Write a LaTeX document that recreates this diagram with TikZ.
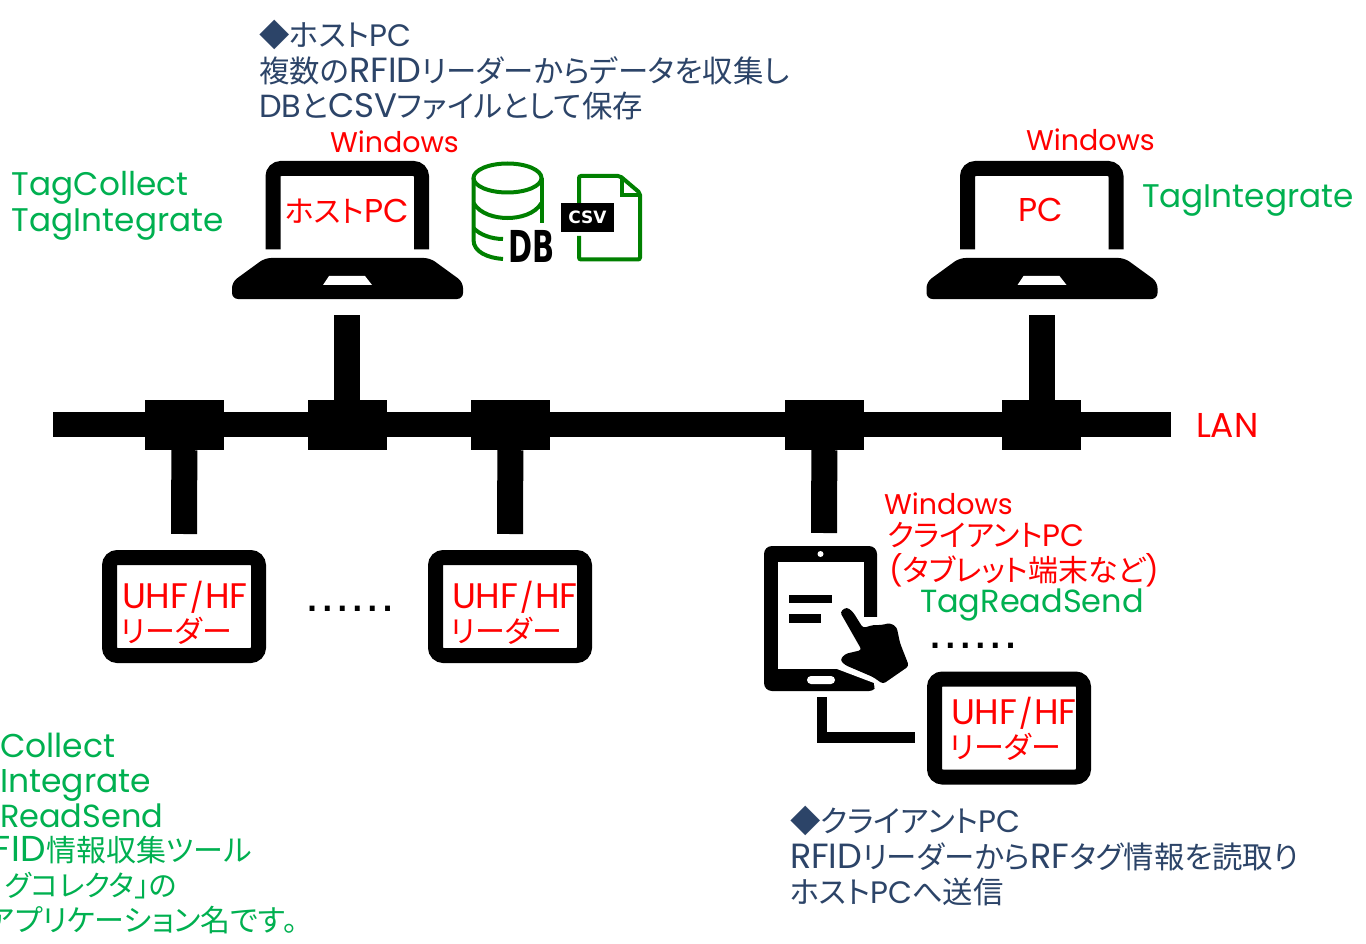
\documentclass[tikz,border=0pt]{standalone}
\usepackage{fontspec}
\setmainfont{Poppins}
\newfontfamily\jpf[RawFeature=+palt]{Noto Sans CJK JP}
\newfontfamily\iconf{DejaVu Sans Bold}
\newfontfamily\monof{DejaVu Sans Mono Bold}
\newcommand{\jp}[1]{{\jpf #1}}
\newcommand{\cp}[2]{{\fontsize{#1}{#1}\selectfont #2}}
\newcommand{\uhf}{\cp{35.5}{UHF}\kern1.5pt\cp{29}{/}\kern1.5pt\cp{35.5}{HF}}
\definecolor{navy}{HTML}{2C4468}
\definecolor{rd}{HTML}{FF0000}
\definecolor{gn}{HTML}{00B050}
\definecolor{icon}{HTML}{008000}
\tikzset{
 lab/.style={anchor=base west,inner sep=0pt,outer sep=0pt,font=\fontsize{30}{30}\selectfont},
 navytxt/.style={lab,text=navy,font=\fontsize{30.4}{30.4}\selectfont},
 redtxt/.style={lab,text=rd},
 greentxt/.style={lab,text=gn,font=\fontsize{32.7}{32.7}\selectfont},
 bus/.style={line width=25pt,black},
 drop/.style={line width=26pt,black},
 junction/.style={fill=black,minimum width=79pt,minimum height=50pt,inner sep=0pt},
 readerbox/.style={draw=black,fill=white,line width=15pt,minimum width=149pt,minimum height=98pt,rounded corners=8pt,inner sep=0pt},
 dotsrow/.style={anchor=base west,inner sep=0pt,text=black,font=\fontsize{30}{30}\selectfont\monof},
}
\begin{document}
\begin{tikzpicture}[x=1pt,y=-1pt]
\path[clip,use as bounding box] (0,0) rectangle (1366,944);
% junctions
\node[junction] (j1) at (184.5,425) {};
\node[junction] (j2) at (347.5,425) {};
\node[junction] (j3) at (510.5,425) {};
\node[junction] (j4) at (824.5,425) {};
\node[junction] (j5) at (1041.5,425) {};
\coordinate (lanL) at (53,424);
\coordinate (lanR) at (1171,424);
\draw[bus] (lanL) -- (lanR);
% readers
\node[readerbox] (r1) at (184,606.5) {};
\node[readerbox] (r2) at (510,606.5) {};
\node[readerbox] (r3) at (1009,728) {};
% laptops
\foreach \dx/\nm in {0/a,694.5/b}{
 \begin{scope}[xshift=\dx pt]
  \draw[line width=15pt,black,rounded corners=8pt] (273,249.5) -- (273,168.5) -- (421.5,168.5) -- (421.5,249.5);
  \fill[black,rounded corners=6pt] (265,258) -- (430,258) -- (463,282) -- (463,299) -- (232,299) -- (232,282) -- cycle;
  \fill[white] (323,285) -- (329,276) -- (365,276) -- (372,285) -- cycle;
 \end{scope}
}
\coordinate (lap1) at (347,315);
\coordinate (lap2) at (1041.5,315);
\coordinate (r1top) at (184,534);
\coordinate (r2top) at (510,534);
\coordinate (tabtop) at (824,533);
\draw[drop] (lap1) -- (lap1 |- j2);
\draw[drop] (lap2) -- (j5);
\draw[drop] (j1) -- (r1top);
\draw[drop] (j3) -- (r2top);
\draw[drop] (j4) -- (tabtop);
% tablet
\node[fill=black,minimum width=113pt,minimum height=145pt,rounded corners=8pt,inner sep=0pt] (tab) at (820.5,618.5) {};
\fill[white] (778,562) rectangle (864,669);
\fill[white] (820.5,554) circle (3pt);
\fill[white,rounded corners=4pt] (807,676) rectangle (835,684);
\fill[black] (789,595) rectangle (831.5,603);
\fill[black] (789,614) rectangle (821,622.5);
\fill[white] (864,617) -- (880,617) -- (880,693) -- (875,693) -- (874,683) -- (837,669) -- (864,669) -- cycle;
\fill[black,rounded corners=3pt] (840,612) -- (846.7,607) -- (853,612) -- (863,628) -- (873,625) -- (881.7,625) -- (890,623) -- (896.7,627) -- (900,643) -- (909,666) -- (883,684) -- (873,677) -- (845,665) -- (840,660) -- (845,654) -- (861.7,650) -- cycle;
\coordinate (tabport) at (822,697);
\coordinate (r3port) at (915,737.5);
\draw[line width=10.5pt,black] (tabport) |- (r3port);
% DB icon
\begin{scope}[icon,line width=4pt]
 \draw (507.5,178) ellipse (34pt and 14.5pt);
 \draw (473.5,178) -- (473.5,240) .. controls (473.5,252) and (488,258) .. (503,259);
 \draw (541.5,178) -- (541.5,223);
 \draw (473.5,203) .. controls (480,214) and (495,218) .. (507.5,218) .. controls (520,218) and (535,214) .. (541.5,203);
 \draw (473.5,228) .. controls (480,235) and (492,239) .. (503,239);
 % file
 \draw[rounded corners=2pt] (579,203) -- (579,176) -- (620,176) -- (640,193) -- (640,259.5) -- (579,259.5) -- (579,236);
 \draw (622,177) -- (622,195) -- (640,195);
\end{scope}
\node[anchor=base west,inner sep=0pt,text=black,xscale=.66,font=\fontsize{44}{44}\selectfont\iconf] (db) at (508,262) {DB};
\node[fill=black,text=white,minimum width=53pt,minimum height=29pt,inner sep=0pt,font=\fontsize{17}{17}\selectfont\iconf] (csv) at (587.5,217.5) {CSV};
% labels
\node[navytxt] (t1) at (259,47) {\jp{◆ホスト}\cp{31}{PC}};
\node[navytxt] (t2) at (259,83) {\jp{複数の}\cp{35}{RFID}\jp{リーダーからデータを収集し}};
\node[navytxt] (t3) at (259,118) {\cp{32}{DB}\jp{と}\cp{34}{CSV}\jp{ファイルとして保存}};
\node[redtxt] (w1) at (330,153) {\cp{28.5}{Windows}};
\node[redtxt] (w2) at (1026,151) {\cp{28.5}{Windows}};
\node[redtxt] (w3) at (884,514) {\cp{28.5}{Windows}};
\node[redtxt] (h1) at (285,223) {\jp{ホスト}\cp{33}{PC}};
\node[redtxt] (h2) at (1018,222) {\cp{33}{PC}};
\node[redtxt] (lan) at (1196,437) {\cp{34.5}{LAN}};
\node[greentxt] (g1) at (12,196) {TagCollect};
\node[greentxt] (g2) at (12,232) {TagIntegrate};
\node[greentxt] (g3) at (1142,208) {TagIntegrate};
\node[greentxt,font=\fontsize{32}{32}\selectfont] (g4) at (920,612) {TagReadSend};
\node[redtxt] (u1) at (122,608) {\uhf};
\node[redtxt] (v1) at (121,642) {\jp{リーダー}};
\node[redtxt] (u2) at (452,608) {\uhf};
\node[redtxt] (v2) at (451,642) {\jp{リーダー}};
\node[redtxt] (u3) at (951,724) {\uhf};
\node[redtxt] (v3) at (950,758) {\jp{リーダー}};
\node[redtxt] (c1) at (887,546) {\jp{クライアント}\cp{31}{PC}};
\node[redtxt] (c2) at (889,581) {(\jp{タブレット端末など})};
\node[dotsrow] (d1) at (303,611) {.\kern-3pt.\kern-3pt.\kern-3pt.\kern-3pt.\kern-3pt.};
\node[dotsrow] (d2) at (926,648) {.\kern-3pt.\kern-3pt.\kern-3pt.\kern-3pt.\kern-3pt.};
\node[navytxt] (b1) at (790,832) {\jp{◆クライアント}\cp{31}{PC}};
\node[navytxt] (b2) at (790,868) {\cp{35}{RFID}\jp{リーダーから}\cp{35}{RF}\jp{タグ情報を読取り}};
\node[navytxt] (b3) at (790,903) {\jp{ホスト}\cp{31}{PC}\jp{へ送信}};
\node[greentxt,font=\fontsize{33}{33}\selectfont] (l1) at (0,757) {Collect};
\node[greentxt,font=\fontsize{33}{33}\selectfont] (l2) at (0,792) {Integrate};
\node[greentxt,font=\fontsize{32}{32}\selectfont] (l3) at (0,827) {ReadSend};
\node[lab,text=gn] (l4) at (-8,861) {\cp{36}{F\kern1pt I\kern1pt D}\jp{情報収集ツール}};
\node[lab,text=gn,font=\fontsize{29}{29}\selectfont] (l5) at (5,896) {\jp{グコレクタ」の}};
\node[lab,text=gn] (l6) at (-13,931) {\jp{アプリケーション名です。}};
\end{tikzpicture}
\end{document}
